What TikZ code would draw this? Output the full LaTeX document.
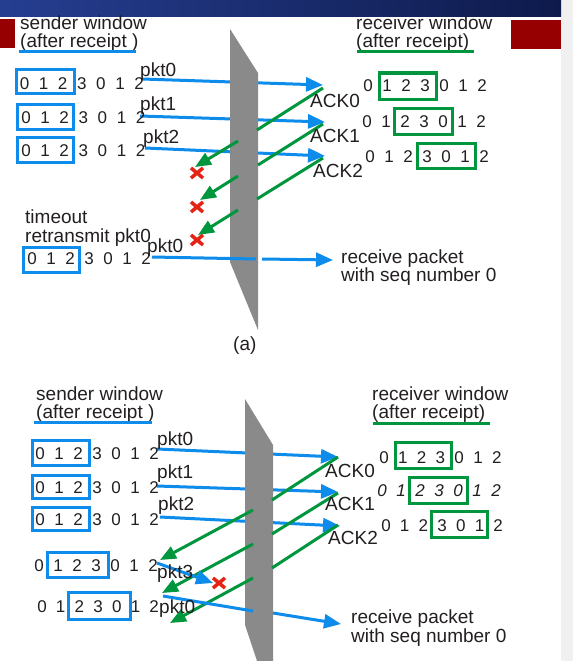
\documentclass[tikz,border=0pt]{standalone}
\usepackage{fontspec}
\setmainfont{Liberation Sans}
\usetikzlibrary{arrows.meta}
\definecolor{pblue}{RGB}{14,140,235}
\definecolor{pgreen}{RGB}{0,150,62}
\definecolor{pred}{RGB}{228,35,20}
\definecolor{wallgray}{RGB}{138,138,138}
\definecolor{txt}{RGB}{35,31,32}
\definecolor{navyL}{RGB}{38,62,145}
\definecolor{navyR}{RGB}{14,26,75}
\definecolor{hdrred}{RGB}{150,0,0}
\definecolor{strip}{RGB}{240,240,240}
\tikzset{
 lbl/.style={anchor=base west, inner sep=0pt, text=txt, font=\fontsize{19}{22}\selectfont},
 lbltwo/.style={anchor=base west, inner sep=0pt, text=txt, align=left, font=\fontsize{19}{#1}\selectfont},
 dig/.style={anchor=base, inner sep=0pt, text=txt, font=\fontsize{17}{20}\selectfont},
 sbox/.style={draw=pblue, line width=3pt},
 rbox/.style={draw=pgreen, line width=3pt},
 sline/.style={draw=pblue, line width=3pt},
 rline/.style={draw=pgreen, line width=3pt},
 pktline/.style={draw=pblue, line width=3pt},
 pktarrow/.style={draw=pblue, line width=3pt, -{Triangle[length=17pt,width=14pt]}},
 ackline/.style={draw=pgreen, line width=3pt},
 ackarrow/.style={draw=pgreen, line width=3pt, -{Triangle[length=16pt,width=13pt]}},
 wallshape/.style={fill=wallgray, draw=none},
 lossx/.style={draw=pred, line width=3.5pt},
}
\newcommand{\digrow}[6]{%
 \foreach \d [count=\i from 0] in {#6} {\node[dig,#5] (#1-\i) at ({#2+\i*#3}, #4) {\d};}%
}
\newcommand{\lossmark}[2]{%
 \draw[lossx] ({#1-6},{#2-5}) -- ({#1+6},{#2+5});
 \draw[lossx] ({#1-6},{#2+5}) -- ({#1+6},{#2-5});
}
\begin{document}
\begin{tikzpicture}[x=1pt,y=-1pt]
\useasboundingbox (0,0) rectangle (573,661);
% background
\fill[white] (0,0) rectangle (573,661);
\fill[strip] (561,0) rectangle (573,661);
\shade[left color=navyL, right color=navyR] (0,0) rectangle (561,17);
\fill[hdrred] (0,19) rectangle (15,48);
\fill[hdrred] (511,20) rectangle (561,49);

% ================= panel (a) =================
\coordinate (a-p0s) at (142,79);  \coordinate (a-p0e) at (323,85);
\coordinate (a-p1s) at (140,116); \coordinate (a-p1e) at (325,122);
\coordinate (a-p2s) at (145,148); \coordinate (a-p2e) at (325,156);
\draw[pktarrow] (a-p0s) -- (a-p0e);
\draw[pktarrow] (a-p1s) -- (a-p1e);
\draw[pktarrow] (a-p2s) -- (a-p2e);
% wall
\fill[wallshape] (230,29) -- (258,73) -- (258,330) -- (230,262) -- cycle;
% acks
\coordinate (a-a0s) at (323,88);  \coordinate (a-a0w) at (257,130);
\coordinate (a-a0r) at (238,141); \coordinate (a-a0e) at (195,167);
\coordinate (a-a1s) at (323,124); \coordinate (a-a1w) at (258,165);
\coordinate (a-a1r) at (238,176); \coordinate (a-a1e) at (200,200);
\coordinate (a-a2s) at (323,158); \coordinate (a-a2w) at (257,199);
\coordinate (a-a2r) at (238,210); \coordinate (a-a2e) at (198,235);
\draw[ackline] (a-a0s) -- (a-a0w);
\draw[ackarrow] (a-a0r) -- (a-a0e);
\draw[ackline] (a-a1s) -- (a-a1w);
\draw[ackarrow] (a-a1r) -- (a-a1e);
\draw[ackline] (a-a2s) -- (a-a2w);
\draw[ackarrow] (a-a2r) -- (a-a2e);
\lossmark{197}{173}
\lossmark{197}{207}
\lossmark{197}{240}
% retransmission
\coordinate (a-rts) at (152,257); \coordinate (a-rtw) at (256,259);
\coordinate (a-rtr) at (262,259); \coordinate (a-rte) at (333,260);
\draw[pktline] (a-rts) -- (a-rtw);
\draw[pktarrow] (a-rtr) -- (a-rte);

% sender side texts (a)
\node[lbltwo=18] (a-sw) at (20,48) {sender window\\(after receipt )};
\draw[sline] (19,52) -- (136,52);
\draw[sbox] (16,70) rectangle (74,93);
\digrow{a-s1}{24.5}{19.1}{89}{}{0,1,2,3,0,1,2}
\draw[sbox] (17,104) rectangle (73,129);
\digrow{a-s2}{26}{19.1}{123}{}{0,1,2,3,0,1,2}
\draw[sbox] (17,137) rectangle (73,162);
\digrow{a-s3}{26}{19.1}{156}{}{0,1,2,3,0,1,2}
\node[lbl] (a-pk0) at (140,77) {pkt0};
\node[lbl] (a-pk1) at (140,110) {pkt1};
\node[lbl] (a-pk2) at (143,143) {pkt2};
\node[lbltwo=19] (a-to) at (25,242) {timeout\\retransmit pkt0};
\node[lbl] (a-pk0b) at (147,252) {pkt0};
\draw[sbox] (23,247) rectangle (79,272);
\digrow{a-s4}{32}{19}{264}{}{0,1,2,3,0,1,2}

% receiver side texts (a)
\node[lbltwo=18] (a-rw) at (356,48) {receiver window\\(after receipt)};
\draw[rline] (357,52) -- (474,52);
\draw[rbox] (379,73) rectangle (436,99);
\digrow{a-r1}{368}{19}{92}{}{0,1,2,3,0,1,2}
\draw[rbox] (394,108) rectangle (452,134);
\digrow{a-r2}{367}{19}{127}{}{0,1,2,3,0,1,2}
\draw[rbox] (417,143) rectangle (475,168);
\digrow{a-r3}{370}{19}{162}{}{0,1,2,3,0,1,2}
\node[lbl] (a-ack0) at (310,107) {ACK0};
\node[lbl] (a-ack1) at (310,142) {ACK1};
\node[lbl] (a-ack2) at (313,177) {ACK2};
\node[lbltwo=18] (a-rp) at (341,281) {receive packet\\with seq number 0};
\node[lbl] (a-cap) at (233,350) {(a)};

% ================= panel (b) =================
\coordinate (b-p0s) at (157,449); \coordinate (b-p0e) at (338,457);
\coordinate (b-p1s) at (157,486); \coordinate (b-p1e) at (338,492);
\coordinate (b-p2s) at (160,517); \coordinate (b-p2e) at (340,526);
\draw[pktarrow] (b-p0s) -- (b-p0e);
\draw[pktarrow] (b-p1s) -- (b-p1e);
\draw[pktarrow] (b-p2s) -- (b-p2e);
% wall
\fill[wallshape] (245,399) -- (273,445) -- (273,661) -- (257,661) -- (245,625) -- cycle;
% acks
\coordinate (b-a0s) at (338,457); \coordinate (b-a0w) at (272,500);
\coordinate (b-a0r) at (253,510); \coordinate (b-a0e) at (160,560);
\coordinate (b-a1s) at (338,493); \coordinate (b-a1w) at (272,534);
\coordinate (b-a1r) at (253,544); \coordinate (b-a1e) at (162,593);
\coordinate (b-a2s) at (338,525); \coordinate (b-a2w) at (272,568);
\coordinate (b-a2r) at (253,578); \coordinate (b-a2e) at (170,623);
\draw[ackline] (b-a0s) -- (b-a0w);
\draw[ackarrow] (b-a0r) -- (b-a0e);
\draw[ackline] (b-a1s) -- (b-a1w);
\draw[ackarrow] (b-a1r) -- (b-a1e);
\draw[ackline] (b-a2s) -- (b-a2w);
\draw[ackarrow] (b-a2r) -- (b-a2e);
% pkt3 lost
\coordinate (b-p3s) at (157,563); \coordinate (b-p3e) at (213,583);
\draw[pktarrow] (b-p3s) -- (b-p3e);
\lossmark{219}{583}
% pkt0 new
\coordinate (b-nps) at (163,596); \coordinate (b-npw) at (253,611);
\coordinate (b-npr) at (273,613); \coordinate (b-npe) at (341,624);
\draw[pktline] (b-nps) -- (b-npw);
\draw[pktarrow] (b-npr) -- (b-npe);

% sender texts (b)
\node[lbltwo=18] (b-sw) at (36,418) {sender window\\(after receipt )};
\draw[sline] (34,422) -- (152,422);
\draw[sbox] (32,440) rectangle (89,465);
\digrow{b-s1}{40}{19}{459}{}{0,1,2,3,0,1,2}
\draw[sbox] (32,475) rectangle (89,498);
\digrow{b-s2}{40}{19}{493}{}{0,1,2,3,0,1,2}
\draw[sbox] (32,507) rectangle (89,530);
\digrow{b-s3}{40}{19}{525}{}{0,1,2,3,0,1,2}
\draw[sbox] (47,552) rectangle (108,577);
\digrow{b-s4}{39}{19}{571}{}{0,1,2,3,0,1,2}
\draw[sbox] (68,592) rectangle (130,619);
\digrow{b-s5}{42}{18.7}{612}{}{0,1,2,3,0,1,2}
\node[lbl] (b-pk0) at (157,445) {pkt0};
\node[lbl] (b-pk1) at (157,478) {pkt1};
\node[lbl] (b-pk2) at (158,510) {pkt2};
\node[lbl] (b-pk3) at (157,578) {pkt3};
\node[lbl] (b-pk0b) at (159,613) {pkt0};

% receiver texts (b)
\node[lbltwo=18] (b-rw) at (372,418) {receiver window\\(after receipt)};
\draw[rline] (373,423) -- (490,423);
\draw[rbox] (395,442) rectangle (451,468);
\digrow{b-r1}{384}{18.8}{463}{}{0,1,2,3,0,1,2}
\draw[rbox] (409,477) rectangle (467,503);
\digrow{b-r2}{382}{19}{496}{font=\fontsize{17}{20}\selectfont\itshape}{0,1,2,3,0,1,2}
\draw[rbox] (431,511) rectangle (487,537);
\digrow{b-r3}{386}{18.7}{531}{}{0,1,2,3,0,1,2}
\node[lbl] (b-ack0) at (325,477) {ACK0};
\node[lbl] (b-ack1) at (325,510) {ACK1};
\node[lbl] (b-ack2) at (328,544) {ACK2};
\node[lbltwo=19] (b-rp) at (351,642) {receive packet\\with seq number 0};
\end{tikzpicture}
\end{document}
